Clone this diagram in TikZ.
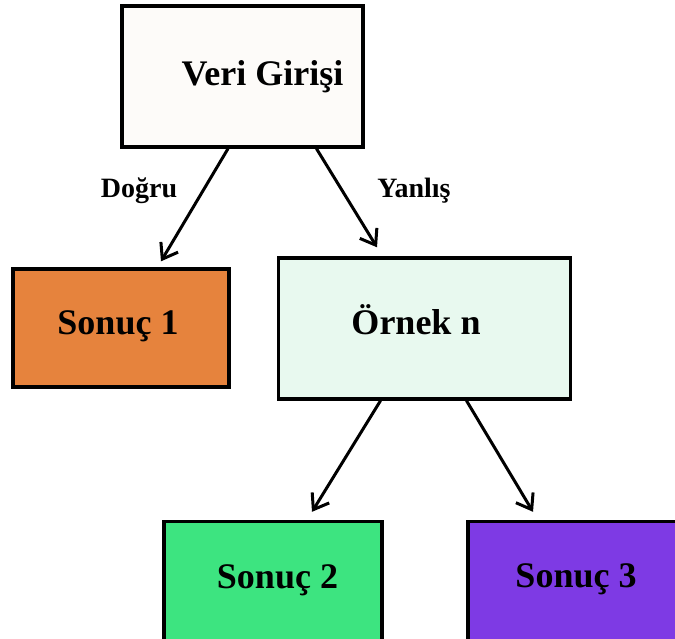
\documentclass[tikz,border=0pt]{standalone}
\usepackage{fontspec}
\setmainfont{Liberation Serif}
\usetikzlibrary{arrows.meta, positioning, calc}
\definecolor{girisfill}{HTML}{FDFBF9}
\definecolor{sonucbir}{HTML}{E6833D}
\definecolor{ornekfill}{HTML}{E8F9EF}
\definecolor{sonuciki}{HTML}{3DE480}
\definecolor{sonucuc}{HTML}{7E3AE4}
\tikzset{
  >={Straight Barb[length=7pt, width=10pt, line width=1.5pt]},
  boxtext/.style = {font=\fontsize{18}{22}\selectfont\bfseries, inner sep=0pt,
                    text height=12pt, text depth=6pt},
  box/.style     = {draw, line width=1.7pt, inner sep=0pt},
  branch/.style  = {font=\fontsize{14}{16}\selectfont\bfseries, inner sep=0pt, anchor=base},
  arrow/.style   = {->, line width=1.5pt},
}
\begin{document}
\begin{tikzpicture}[x=0.5pt, y=-0.5pt]
  \useasboundingbox (0,0) rectangle (675,638);
  \clip (0,0) rectangle (675,638);

  % boxes
  \node[box, fill=girisfill, minimum width=120.5pt, minimum height=70.5pt,
        label={[boxtext, xshift=10pt, yshift=-1.25pt]center:Veri Girişi}] (veri) at (242.5,76.5) {};
  \node[box, fill=sonucbir, minimum width=108pt, minimum height=59pt,
        label={[boxtext, xshift=-1.5pt]center:Sonuç 1}] (son1) at (121,328) {};
  \node[box, fill=ornekfill, minimum width=146pt, minimum height=70.5pt,
        label={[boxtext, xshift=-4.25pt]center:Örnek n}] (ornek) at (424.5,328.5) {};
  \node[box, fill=sonuciki, minimum width=109pt, minimum height=62pt,
        label={[boxtext, xshift=2.25pt, yshift=0.75pt]center:Sonuç 2}] (son2) at (273,583.5) {};
  \node[box, fill=sonucuc, minimum width=108pt, minimum height=62pt,
        label={[boxtext, yshift=1pt]center:Sonuç 3}] (son3) at (576,583.5) {};

  % connectors
  \draw[arrow] ([xshift=-7.25pt]veri.south) -- ([xshift=20pt, yshift=3pt]son1.north);
  \draw[arrow] ([xshift=37pt]veri.south)    -- ([xshift=-23.75pt, yshift=4.5pt]ornek.north);
  \draw[arrow] ([xshift=-22pt]ornek.south)  -- ([xshift=19.5pt, yshift=4pt]son2.north);
  \draw[arrow] ([xshift=21pt]ornek.south)   -- ([xshift=-21.5pt, yshift=4pt]son3.north);

  \node[branch] (dogru)  at (139,197) {Doğru};
  \node[branch] (yanlis) at (414,197) {Yanlış};
\end{tikzpicture}
\end{document}
